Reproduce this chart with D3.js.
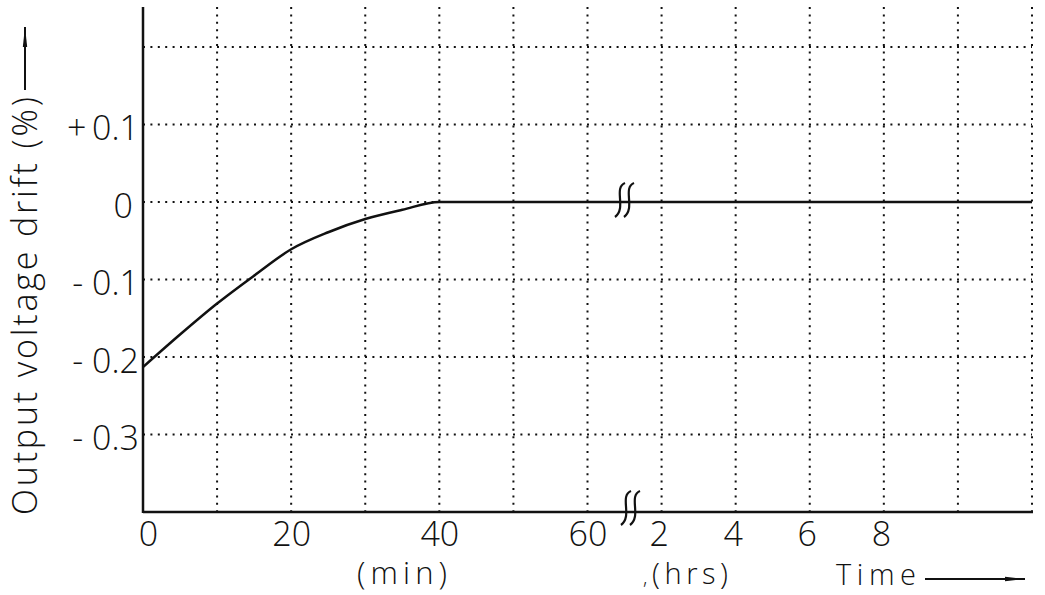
<!DOCTYPE html>
<html>
<head>
<meta charset="utf-8">
<script src="https://cdn.jsdelivr.net/npm/d3@7"></script>
<style>
  body { margin: 0; background: #fff; }
  svg text { font-family: "Open Sans", "DejaVu Sans", sans-serif; font-weight: 300; fill: #111; }
</style>
</head>
<body>
<div id="chart"></div>
<script>
// drift curve (minutes part and hours part)
const driftMinutes = [0, 5, 10, 15, 20, 25, 30, 35, 40, 60];
const driftMinVals = [-0.213, -0.171, -0.131, -0.095, -0.061, -0.039, -0.022, -0.010, 0, 0];
const driftHours = [2, 4, 6, 8, 10, 12];
const driftHrVals = [0, 0, 0, 0, 0, 0];

// ticks and grid
const yGrid = [0.2, 0.1, 0, -0.1, -0.2, -0.3];
const yTickValues = [0.1, 0, -0.1, -0.2, -0.3];
const yTickLabels = ["+\u20090.1", "0", "- 0.1", "- 0.2", "- 0.3"];
const minGrid = [10, 20, 30, 40, 50, 60];
const hrGrid = [2, 4, 6, 8, 10, 12];
const minTicks = [0, 20, 40, 60];
const hrTicks = [2, 4, 6, 8];

const W = 1045, H = 595;
const x0 = 143, x1 = 1032, yBot = 512, yTopPx = 7;
const cell = (x1 - x0) / 12;

const svg = d3.select("#chart").append("svg")
  .attr("width", W).attr("height", H);

const xMin = d3.scaleLinear().domain([0, 60]).range([x0, x0 + 6 * cell]);
const xHr = d3.scaleLinear().domain([2, 12]).range([x0 + 7 * cell, x0 + 12 * cell]);
const y = d3.scaleLinear().domain([-0.4, 0.2]).range([yBot, 47]);

// dotted grid
const vg = svg.append("g");
minGrid.forEach(m => vg.append("line")
  .attr("x1", xMin(m)).attr("x2", xMin(m)).attr("y1", yTopPx).attr("y2", yBot));
hrGrid.forEach(h => vg.append("line")
  .attr("x1", xHr(h)).attr("x2", xHr(h)).attr("y1", yTopPx).attr("y2", yBot));
yGrid.forEach(v => vg.append("line")
  .attr("x1", x0).attr("x2", x1).attr("y1", y(v)).attr("y2", y(v)));
vg.selectAll("line").attr("stroke", "#111").attr("stroke-width", 2)
  .attr("stroke-dasharray", "2,5.4");

// axes lines
svg.append("line").attr("x1", x0).attr("x2", x0).attr("y1", yTopPx).attr("y2", yBot + 1)
  .attr("stroke", "#111").attr("stroke-width", 2.5);
svg.append("line").attr("x1", x0).attr("x2", x1 + 1).attr("y1", yBot).attr("y2", yBot)
  .attr("stroke", "#111").attr("stroke-width", 2.5);

// curve
const pts = driftMinutes.map((m, i) => [xMin(m), y(driftMinVals[i])])
  .concat(driftHours.map((h, i) => [xHr(h), y(driftHrVals[i])]));
svg.append("path")
  .attr("d", d3.line().curve(d3.curveMonotoneX)(pts))
  .attr("fill", "none").attr("stroke", "#111").attr("stroke-width", 2.5);

// break marks
function breakMark(cx, cy) {
  const g = svg.append("g");
  [-4, 5].forEach(dx => {
    const x = cx + dx;
    g.append("path")
      .attr("d", `M${x + 5},${cy - 17} C${x - 7},${cy - 12} ${x + 7},${cy + 8} ${x - 5},${cy + 17}`)
      .attr("fill", "none").attr("stroke", "#111").attr("stroke-width", 2.2);
  });
}
breakMark(624, 200);
breakMark(630, 508);

// y tick labels
const yAxis = svg.append("g").attr("transform", `translate(${x0},0)`)
  .call(d3.axisLeft(y).tickValues(yTickValues).tickSize(0).tickPadding(4)
    .tickFormat((d, i) => yTickLabels[i]));
yAxis.select(".domain").remove();
yAxis.selectAll("text").attr("font-size", 34).attr("dy", "0.45em").attr("font-family", null);
yAxis.selectAll("text").filter(d => d === 0).attr("x", -10);

// x tick labels, minutes and hours
const xa1 = svg.append("g").attr("transform", `translate(0,${yBot})`)
  .call(d3.axisBottom(xMin).tickValues(minTicks).tickSize(0).tickPadding(10));
const xa2 = svg.append("g").attr("transform", `translate(-3,${yBot})`)
  .call(d3.axisBottom(xHr).tickValues(hrTicks).tickSize(0).tickPadding(10));
[xa1, xa2].forEach(a => {
  a.select(".domain").remove();
  a.selectAll("text").attr("font-size", 34).attr("font-family", null);
});
xa1.selectAll("text").filter(d => d === 0).attr("x", 5);

// axis titles
svg.append("text").attr("x", 402).attr("y", 584).attr("text-anchor", "middle")
  .attr("font-size", 31).attr("textLength", 90).attr("lengthAdjust", "spacing").text("(min)");
svg.append("text").attr("x", 690).attr("y", 584).attr("text-anchor", "middle")
  .attr("font-size", 29).attr("textLength", 76).attr("lengthAdjust", "spacing").text("(hrs)");
svg.append("text").attr("x", 643).attr("y", 584).attr("font-size", 20).text(",");
svg.append("text").attr("x", 836).attr("y", 585).attr("font-size", 29)
  .attr("textLength", 80).attr("lengthAdjust", "spacing").text("Time");

svg.append("text")
  .attr("transform", "translate(37,515) rotate(-90)")
  .attr("font-size", 34)
  .attr("textLength", 418).attr("lengthAdjust", "spacing")
  .text("Output  voltage drift (%)");

// arrows
svg.append("defs").append("marker")
  .attr("id", "arr").attr("viewBox", "0 0 20 6").attr("refX", 20).attr("refY", 3)
  .attr("markerWidth", 20).attr("markerHeight", 6).attr("markerUnits", "userSpaceOnUse")
  .attr("orient", "auto")
  .append("path").attr("d", "M0,0.8 L20,3 L0,5.2 Z").attr("fill", "#111");
svg.append("line").attr("x1", 25).attr("x2", 25).attr("y1", 90).attr("y2", 27)
  .attr("stroke", "#111").attr("stroke-width", 2).attr("marker-end", "url(#arr)");
svg.append("line").attr("x1", 925).attr("x2", 1025).attr("y1", 579).attr("y2", 579)
  .attr("stroke", "#111").attr("stroke-width", 2).attr("marker-end", "url(#arr)");
</script>
</body>
</html>
